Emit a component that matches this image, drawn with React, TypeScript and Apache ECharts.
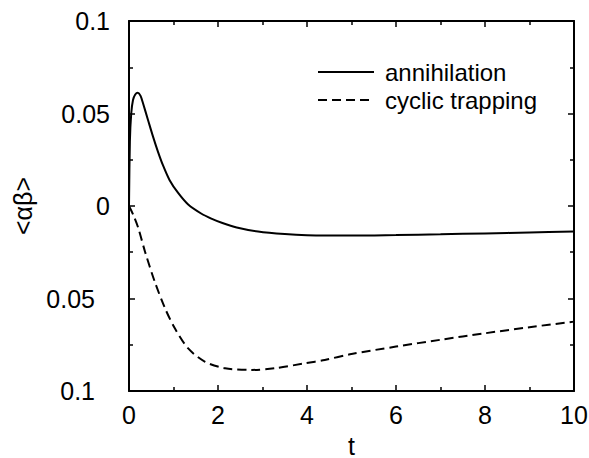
import React, { useEffect, useRef } from "react";
import * as echarts from "echarts";

const tSolid = [0, 0.02, 0.05, 0.09, 0.14, 0.2, 0.26, 0.315, 0.427, 0.54, 0.65, 0.76, 0.91, 1.1, 1.33, 1.63, 1.85, 2.1, 2.42, 2.9, 3.5, 4, 5, 6, 7, 8, 9, 10];
const ySolid = [0, 0.035, 0.05, 0.0573, 0.0603, 0.0612, 0.0595, 0.0555, 0.0465, 0.0375, 0.0294, 0.0222, 0.0141, 0.0072, 0.0008, -0.0042, -0.0068, -0.0092, -0.0116, -0.0138, -0.0152, -0.0158, -0.016, -0.0157, -0.0153, -0.0148, -0.0143, -0.0138];

const tDashed = [0, 0.1, 0.21, 0.36, 0.58, 0.81, 1.03, 1.33, 1.71, 2.16, 2.76, 3.28, 3.96, 4.4, 5, 6, 7, 8, 9, 10];
const yDashed = [0, -0.005, -0.012, -0.0247, -0.041, -0.0553, -0.0661, -0.077, -0.0842, -0.0877, -0.0886, -0.0877, -0.085, -0.0832, -0.08, -0.076, -0.0723, -0.0688, -0.0655, -0.0625];

const seriesNames = ["annihilation", "cyclic trapping"];
const xTickLabels = ["0", "2", "4", "6", "8", "10"];
const yTickLabels = ["0.1", "0.05", "0", "0.05", "0.1"]; // bottom to top
const xName = "t";
const yName = "<αβ>";

const FONT = "'Liberation Sans', Arial, Helvetica, sans-serif";
const FS = 25;

export default function App() {
  const ref = useRef<HTMLDivElement>(null);
  useEffect(() => {
    if (!ref.current) return;
    const chart = echarts.init(ref.current, null, { renderer: "svg" });
    const axisLine = { show: true, onZero: false, lineStyle: { color: "#000", width: 2 } };
    const axisTick = { show: true, inside: true, length: 6, lineStyle: { color: "#000", width: 1.5 } };
    const minorTick = { show: true, splitNumber: 2, length: 4, lineStyle: { color: "#000", width: 1.5 } };
    const baseX = {
      type: "value",
      min: 0,
      max: 10,
      interval: 2,
      axisLine,
      axisTick,
      minorTick,
      splitLine: { show: false },
      minorSplitLine: { show: false },
    };
    const baseY = {
      type: "value",
      min: -0.1,
      max: 0.1,
      interval: 0.05,
      axisLine,
      axisTick,
      minorTick,
      splitLine: { show: false },
      minorSplitLine: { show: false },
    };
    const option: any = {
      animation: false,
      backgroundColor: "#fff",
      grid: { left: 129, right: 15, top: 21, bottom: 67, containLabel: false, outerBoundsMode: "none" },
      legend: {
        data: seriesNames,
        orient: "vertical",
        left: 312,
        top: 55,
        itemWidth: 56,
        itemHeight: 14,
        itemGap: 4,
        itemStyle: { opacity: 0 },
        textStyle: { fontSize: 24, color: "#000", fontFamily: FONT, padding: [0, 0, 0, 6] },
      },
      xAxis: [
        {
          ...baseX,
          position: "bottom",
          name: xName,
          nameLocation: "middle",
          nameGap: 42,
          nameTextStyle: { fontSize: FS, color: "#000", fontFamily: FONT },
          axisLabel: {
            fontSize: FS,
            color: "#000",
            fontFamily: FONT,
            margin: 11,
            formatter: (_v: number, i: number) => xTickLabels[i],
          },
        },
        { ...baseX, position: "top", axisLabel: { show: false } },
      ],
      yAxis: [
        {
          ...baseY,
          position: "left",
          name: yName,
          nameLocation: "middle",
          nameRotate: 90,
          nameGap: 94,
          nameTextStyle: { fontSize: FS, color: "#000", fontFamily: FONT },
          axisLabel: {
            fontSize: FS,
            color: "#000",
            fontFamily: FONT,
            margin: 19,
            formatter: (v: number, i: number) =>
              v < 0 ? `{neg|${yTickLabels[i]}}` : yTickLabels[i],
            rich: {
              neg: { fontSize: FS, color: "#000", fontFamily: FONT, padding: [0, 15, 0, 0] },
            },
          },
        },
        { ...baseY, position: "right", axisLabel: { show: false } },
      ],
      series: [
        {
          name: seriesNames[0],
          type: "line",
          data: tSolid.map((t, i) => [t, ySolid[i]]),
          symbol: "none",
          smooth: 0.3,
          lineStyle: { color: "#000", width: 2, type: "solid" },
          itemStyle: { color: "#000" },
        },
        {
          name: seriesNames[1],
          type: "line",
          data: tDashed.map((t, i) => [t, yDashed[i]]),
          symbol: "none",
          smooth: 0.3,
          lineStyle: { color: "#000", width: 2, type: [9, 5] },
          itemStyle: { color: "#000" },
        },
      ],
    };
    chart.setOption(option);
    return () => chart.dispose();
  }, []);
  return <div ref={ref} style={{ width: 589, height: 458, position: "absolute", left: 0, top: 0 }} />;
}
